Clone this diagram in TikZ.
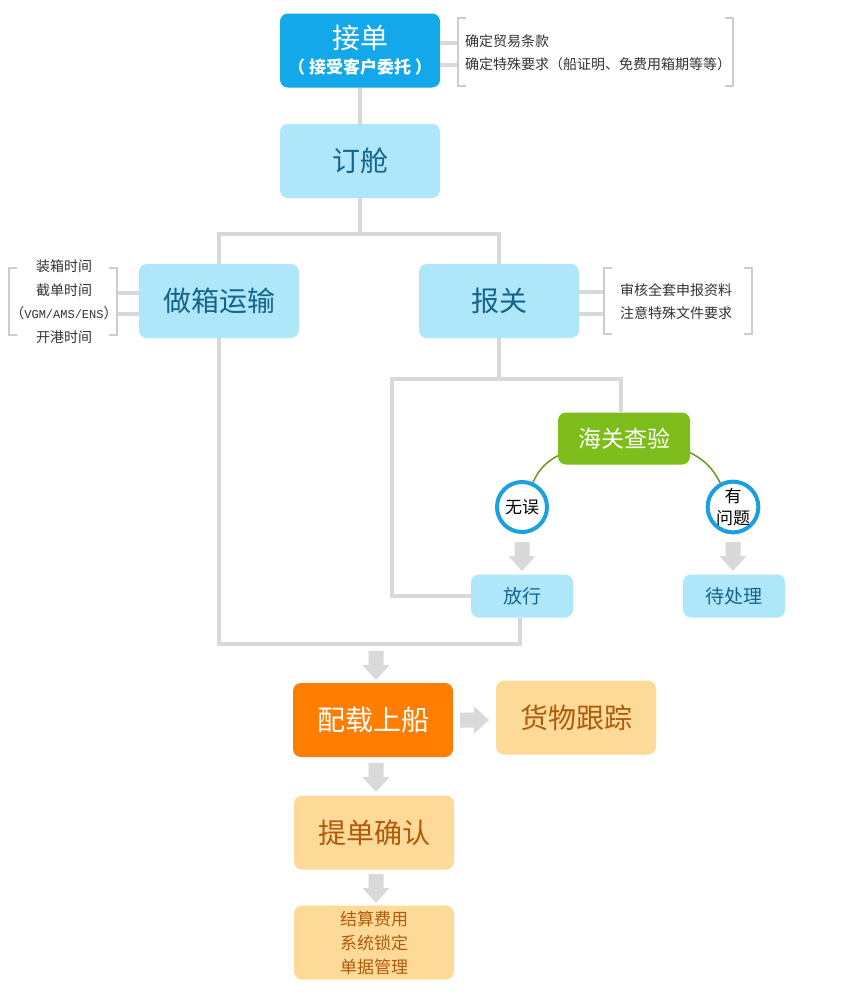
\documentclass[tikz,border=0pt]{standalone}
\usepackage{fontspec}
\setmainfont{Noto Sans CJK SC}
\newfontfamily\monofnt{Liberation Mono}
\usetikzlibrary{calc}
\definecolor{cBlue}{HTML}{12A8E9}
\definecolor{cBlueL}{HTML}{AEE6FA}
\definecolor{cBlueT}{HTML}{15648C}
\definecolor{cGreen}{HTML}{7DBD1C}
\definecolor{cGreenL}{HTML}{6A9A1E}
\definecolor{cOrange}{HTML}{FF7D00}
\definecolor{cOrangeL}{HTML}{FEDA98}
\definecolor{cBrown}{HTML}{B05A0C}
\definecolor{cConn}{HTML}{D9D9D9}
\definecolor{cBrk}{HTML}{CCCCCC}
\definecolor{cTxt}{HTML}{333333}
\definecolor{cRing}{HTML}{1AA0E2}
\begin{document}
\begin{tikzpicture}[x=1pt,y=-1pt,
  box/.style={rounded corners=8pt, minimum width=160pt, minimum height=74pt, inner sep=0pt, align=center},
  topbox/.style={box, fill=cBlue, text=white},
  lbbox/.style={box, fill=cBlueL, text=cBlueT, font=\fontsize{28}{32}\selectfont},
  orbox/.style={box, fill=cOrange, text=white, font=\fontsize{28}{32}\selectfont},
  ltorbox/.style={box, fill=cOrangeL, text=cBrown, font=\fontsize{28}{32}\selectfont},
  greenbox/.style={rounded corners=8pt, minimum width=132pt, minimum height=52pt, inner sep=0pt, fill=cGreen, text=white, font=\fontsize{23}{26}\selectfont},
  smallbox/.style={rounded corners=8pt, minimum width=102pt, minimum height=43pt, inner sep=0pt, fill=cBlueL, text=cBlueT, font=\fontsize{19}{22}\selectfont},
  ring/.style={circle, draw=cRing, line width=4pt, fill=white, minimum size=50pt, inner sep=0pt, align=center, text=black, font=\fontsize{17}{22}\selectfont},
  conn/.style={draw=cConn, line width=4pt},
  brk/.style={draw=cBrk, line width=2pt},
  note/.style={text=cTxt, font=\fontsize{14}{16}\selectfont, inner sep=0pt},
  gline/.style={draw=cGreenL, line width=1.5pt},
  dnarrow/.pic={\fill[cConn] (-7.5,0) -- (7.5,0) -- (7.5,14) -- (13.5,14) -- (0,29) -- (-13.5,14) -- (-7.5,14) -- cycle;},
  rtarrow/.pic={\fill[cConn] (0,-7.5) -- (0,7.5) -- (14,7.5) -- (14,13.5) -- (29,0) -- (14,-13.5) -- (14,-7.5) -- cycle;}
]
\useasboundingbox[fill=white] (0,0) rectangle (850,1002);

% main nodes
\node[topbox] (jd) at (360,50.5) {{\fontsize{28}{30}\selectfont 接单}\\[7pt]{\fontsize{17}{20}\selectfont\bfseries （ 接受客户委托 ）}};
\node[lbbox] (dc) at (360,161) {订舱};
\node[lbbox] (zx) at (219,301) {做箱运输};
\node[lbbox] (bg) at (499,301) {报关};
\node[greenbox] (hg) at (624,438.5) {海关查验};
\node[ring] (wu) at (522,507) {无误};
\node[ring] (yw) at (733,507) {有\\问题};
\node[smallbox] (fx) at (522,596) {放行};
\node[smallbox] (dcl) at (734,596) {待处理};
\node[orbox] (pz) at (373,720) {配载上船};
\node[ltorbox] (hw) at (576,717.5) {货物跟踪};
\node[ltorbox] (td) at (374,832.5) {提单确认};
\node[ltorbox, font=\fontsize{17}{24}\selectfont] (js) at (374,942.5) {结算费用\\系统锁定\\单据管理};

% connectors
\coordinate (j1) at (360,234);
\draw[conn] (jd.south) -- (dc.north);
\draw[conn] (dc.south) -- (j1);
\draw[conn] (zx.north) |- (j1) -| (bg.north);
\coordinate (fl) at (392,379);
\coordinate (fr) at (621,379);
\draw[conn] (bg.south) -- (bg.south |- fl);
\draw[conn] (fr |- hg.north) -- (fr) -- (fl) |- (fx.west);
\coordinate (jb) at (520,644);
\draw[conn] (zx.south) |- (jb) -- (jb |- fx.south);

% green curves
\draw[gline] ($(hg.south west)+(0,-9)$) to[bend right=18] (wu.66);
\draw[gline] ($(hg.south east)+(0,-12)$) to[bend left=18] (yw.118);

% block arrows
\pic at (522,542) {dnarrow};
\pic at (733,542) {dnarrow};
\pic at (376,651) {dnarrow};
\pic at (376,763) {dnarrow};
\pic at (376,874) {dnarrow};
\pic at (460,720) {rtarrow};

% top right bracket
\coordinate (ba) at (458,43);
\coordinate (bb) at (458,65);
\draw[conn] (ba -| jd.east) -- (ba);
\draw[conn] (bb -| jd.east) -- (bb);
\draw[brk] (466,18) -- (458,18) -- (458,86) -- (466,86);
\draw[brk] (725,18) -- (733,18) -- (733,86) -- (725,86);
\node[note, anchor=west] (n1) at (465,41) {确定贸易条款};
\node[note, anchor=west] (n2) at (465,64) {确定特殊要求（船证明、免费用箱期等等）};

% left bracket
\coordinate (la) at (117,293);
\coordinate (lb) at (117,314);
\draw[conn] (la) -- (la -| zx.west);
\draw[conn] (lb) -- (lb -| zx.west);
\draw[brk] (17,268) -- (9,268) -- (9,335) -- (17,335);
\draw[brk] (109,268) -- (117,268) -- (117,335) -- (109,335);
\node[note] (m1) at (64,266) {装箱时间};
\node[note] (m2) at (64,290) {截单时间};
\node[note] (m3) at (64,313) {（{\monofnt\fontsize{12}{14}\selectfont VGM/AMS/ENS}）};
\node[note] (m4) at (64,337) {开港时间};

% right bracket of 报关
\coordinate (ra) at (604,292);
\coordinate (rb) at (604,314);
\draw[conn] (ra -| bg.east) -- (ra);
\draw[conn] (rb -| bg.east) -- (rb);
\draw[brk] (612,268) -- (604,268) -- (604,334) -- (612,334);
\draw[brk] (744,268) -- (752,268) -- (752,334) -- (744,334);
\node[note, anchor=west] (r1) at (620,290) {审核全套申报资料};
\node[note, anchor=west] (r2) at (620,313) {注意特殊文件要求};
\end{tikzpicture}
\end{document}
